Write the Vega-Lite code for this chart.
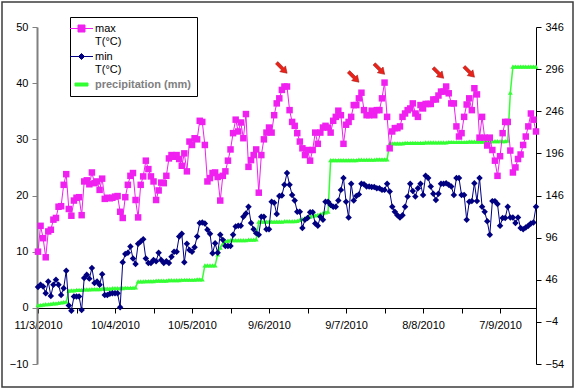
{
"$schema": "https://vega.github.io/schema/vega-lite/v6.json",
"width": 571, "height": 385, "autosize": "none",
"padding": {"left": 2, "top": 2, "right": 4, "bottom": 5},
"background": "white",
"config": {"view": {"stroke": "#3c3c3c", "strokeWidth": 1.5}, "font": "Liberation Sans",
  "axis": {"grid": false, "title": null, "labelFont": "Liberation Sans", "labelFontSize": 11, "labelColor": "#000"}},
"datasets": {
"main": [
{"d":"2010-03-11","mx":10,"mn":3.7,"p":16},{"d":"2010-03-12","mx":14.6,"mn":4.1,"p":16},{"d":"2010-03-13","mx":12.4,"mn":3.8,"p":16.5},{"d":"2010-03-14","mx":9,"mn":2.6,"p":17},{"d":"2010-03-15","mx":13.6,"mn":4.7,"p":17},{"d":"2010-03-16","mx":13.9,"mn":2.1,"p":17.5},{"d":"2010-03-17","mx":15.7,"mn":4.1,"p":18},{"d":"2010-03-18","mx":16,"mn":5,"p":18},{"d":"2010-03-19","mx":18,"mn":4.1,"p":18.5},{"d":"2010-03-20","mx":18.1,"mn":2.3,"p":19},{"d":"2010-03-21","mx":21.9,"mn":3.5,"p":19.5},{"d":"2010-03-22","mx":23.8,"mn":6.6,"p":20},{"d":"2010-03-23","mx":17.6,"mn":0.4,"p":33},{"d":"2010-03-24","mx":16.4,"mn":-0.5,"p":33.5},{"d":"2010-03-25","mx":19.1,"mn":2,"p":33.5},{"d":"2010-03-26","mx":19.6,"mn":2,"p":34},{"d":"2010-03-27","mx":19.7,"mn":2,"p":34},{"d":"2010-03-28","mx":16.5,"mn":-0.4,"p":34},{"d":"2010-03-29","mx":22.5,"mn":5.3,"p":34.5},{"d":"2010-03-30","mx":22.7,"mn":5.9,"p":34.5},{"d":"2010-03-31","mx":22,"mn":5.2,"p":34.5},
{"d":"2010-04-01","mx":24.1,"mn":7.1,"p":35},{"d":"2010-04-02","mx":22.2,"mn":4.4,"p":35},{"d":"2010-04-03","mx":22.5,"mn":4.7,"p":35},{"d":"2010-04-04","mx":21,"mn":4.1,"p":35},{"d":"2010-04-05","mx":23,"mn":6,"p":35.5},{"d":"2010-04-06","mx":19.4,"mn":2.3,"p":35.5},{"d":"2010-04-07","mx":19.6,"mn":2.3,"p":35.5},{"d":"2010-04-08","mx":19.5,"mn":2.5,"p":35.5},{"d":"2010-04-09","mx":19.6,"mn":2.6,"p":36},{"d":"2010-04-10","mx":19.8,"mn":2.6,"p":36},{"d":"2010-04-11","mx":19.9,"mn":2.6,"p":36},{"d":"2010-04-12","mx":17.1,"mn":0.1,"p":36},{"d":"2010-04-13","mx":16,"mn":8.1,"p":36},{"d":"2010-04-14","mx":19.7,"mn":9.6,"p":36.5},{"d":"2010-04-15","mx":21.9,"mn":9.8,"p":36.5},{"d":"2010-04-16","mx":23.5,"mn":10.9,"p":36.5},{"d":"2010-04-17","mx":24,"mn":8.8,"p":36.5},{"d":"2010-04-18","mx":19.2,"mn":7.8,"p":37},{"d":"2010-04-19","mx":16.1,"mn":11.4,"p":44},{"d":"2010-04-20","mx":21.9,"mn":11.8,"p":44},{"d":"2010-04-21","mx":23.4,"mn":12.2,"p":44},{"d":"2010-04-22","mx":26.2,"mn":8.8,"p":44.5},{"d":"2010-04-23","mx":24.7,"mn":8,"p":44.5},{"d":"2010-04-24","mx":23.4,"mn":8,"p":44.5},{"d":"2010-04-25","mx":22.5,"mn":8.5,"p":44.5},{"d":"2010-04-26","mx":19.2,"mn":8.3,"p":45},{"d":"2010-04-27","mx":20.9,"mn":9.8,"p":45},{"d":"2010-04-28","mx":22.3,"mn":8.5,"p":45},{"d":"2010-04-29","mx":22.2,"mn":8,"p":45},{"d":"2010-04-30","mx":23.5,"mn":8.3,"p":45},
{"d":"2010-05-01","mx":26.6,"mn":8,"p":45.5},{"d":"2010-05-02","mx":27.2,"mn":9.1,"p":45.5},{"d":"2010-05-03","mx":26.9,"mn":10,"p":45.5},{"d":"2010-05-04","mx":27.2,"mn":10,"p":45.5},{"d":"2010-05-05","mx":26.5,"mn":12.7,"p":45.5},{"d":"2010-05-06","mx":25.3,"mn":13.2,"p":46},{"d":"2010-05-07","mx":27.5,"mn":8.1,"p":46},{"d":"2010-05-08","mx":24.3,"mn":11.4,"p":46},{"d":"2010-05-09","mx":29.6,"mn":10.3,"p":46},{"d":"2010-05-10","mx":29,"mn":10,"p":46},{"d":"2010-05-11","mx":30.2,"mn":10.8,"p":46},{"d":"2010-05-12","mx":30,"mn":12.7,"p":46.5},{"d":"2010-05-13","mx":33.3,"mn":15.1,"p":46.5},{"d":"2010-05-14","mx":33.1,"mn":15.2,"p":46.5},{"d":"2010-05-15","mx":29,"mn":15,"p":63},{"d":"2010-05-16","mx":22.5,"mn":13.9,"p":63},{"d":"2010-05-17","mx":23.1,"mn":13.2,"p":63},{"d":"2010-05-18","mx":24,"mn":9.7,"p":63},{"d":"2010-05-19","mx":24.1,"mn":11.5,"p":63},{"d":"2010-05-20","mx":23.3,"mn":9.8,"p":76},{"d":"2010-05-21","mx":19.1,"mn":13,"p":84},{"d":"2010-05-22","mx":23.5,"mn":12.1,"p":89},{"d":"2010-05-23","mx":24.3,"mn":11,"p":92},{"d":"2010-05-24","mx":26.2,"mn":11,"p":92.5},{"d":"2010-05-25","mx":28.2,"mn":11,"p":93},{"d":"2010-05-26","mx":31.1,"mn":13,"p":93},{"d":"2010-05-27","mx":33.5,"mn":14.5,"p":93},{"d":"2010-05-28","mx":31.4,"mn":14.6,"p":93},{"d":"2010-05-29","mx":33,"mn":14.6,"p":93},{"d":"2010-05-30","mx":30.2,"mn":16.2,"p":93},{"d":"2010-05-31","mx":34.5,"mn":16.8,"p":93},
{"d":"2010-06-01","mx":25.1,"mn":18,"p":93.5},{"d":"2010-06-02","mx":26.3,"mn":15.1,"p":93.5},{"d":"2010-06-03","mx":27.2,"mn":14,"p":93.5},{"d":"2010-06-04","mx":28.2,"mn":13.3,"p":94},{"d":"2010-06-05","mx":20.5,"mn":13,"p":115},{"d":"2010-06-06","mx":27.2,"mn":16.2,"p":115},{"d":"2010-06-07","mx":30,"mn":16.2,"p":115},{"d":"2010-06-08","mx":31.2,"mn":14,"p":115},{"d":"2010-06-09","mx":32.1,"mn":14,"p":115},{"d":"2010-06-10","mx":31.2,"mn":18.9,"p":115},{"d":"2010-06-11","mx":34.3,"mn":18.7,"p":115},{"d":"2010-06-12","mx":36.4,"mn":16.7,"p":115},{"d":"2010-06-13","mx":37.3,"mn":19.9,"p":115},{"d":"2010-06-14","mx":38.8,"mn":20,"p":115},{"d":"2010-06-15","mx":39.4,"mn":21.9,"p":115.5},{"d":"2010-06-16","mx":39.4,"mn":24,"p":115.5},{"d":"2010-06-17","mx":35.2,"mn":21.9,"p":115.5},{"d":"2010-06-18","mx":33.1,"mn":20.1,"p":115.5},{"d":"2010-06-19","mx":32.4,"mn":19.1,"p":115.5},{"d":"2010-06-20","mx":31.1,"mn":17.1,"p":116},{"d":"2010-06-21","mx":29.6,"mn":17.1,"p":117},{"d":"2010-06-22","mx":28.4,"mn":14.2,"p":118},{"d":"2010-06-23","mx":27.2,"mn":15.7,"p":119},{"d":"2010-06-24","mx":28.1,"mn":16,"p":120},{"d":"2010-06-25","mx":26.2,"mn":17,"p":121},{"d":"2010-06-26","mx":28.1,"mn":17,"p":122},{"d":"2010-06-27","mx":31.2,"mn":15,"p":122.5},{"d":"2010-06-28","mx":29.2,"mn":14.6,"p":123},{"d":"2010-06-29","mx":31.2,"mn":16.2,"p":124},{"d":"2010-06-30","mx":32.1,"mn":15.7,"p":125},
{"d":"2010-07-01","mx":32.4,"mn":18.9,"p":126},{"d":"2010-07-02","mx":32.1,"mn":18.9,"p":127},{"d":"2010-07-03","mx":31.2,"mn":18.3,"p":188},{"d":"2010-07-04","mx":33.3,"mn":18,"p":188},{"d":"2010-07-05","mx":34,"mn":18,"p":188},{"d":"2010-07-06","mx":35.1,"mn":19.1,"p":188},{"d":"2010-07-07","mx":34.3,"mn":21,"p":188},{"d":"2010-07-08","mx":29.2,"mn":23.1,"p":188},{"d":"2010-07-09","mx":32.6,"mn":18.9,"p":188},{"d":"2010-07-10","mx":33.1,"mn":16.1,"p":188},{"d":"2010-07-11","mx":34,"mn":22.1,"p":188},{"d":"2010-07-12","mx":36.1,"mn":19.1,"p":188},{"d":"2010-07-13","mx":36.1,"mn":19.9,"p":188},{"d":"2010-07-14","mx":37.3,"mn":20.2,"p":188.5},{"d":"2010-07-15","mx":38.3,"mn":22.1,"p":188.5},{"d":"2010-07-16","mx":35.2,"mn":22,"p":188.5},{"d":"2010-07-17","mx":34.3,"mn":21.6,"p":188.5},{"d":"2010-07-18","mx":34.3,"mn":21.6,"p":188.5},{"d":"2010-07-19","mx":35.1,"mn":21.5,"p":188.5},{"d":"2010-07-20","mx":34.3,"mn":21.5,"p":188.5},{"d":"2010-07-21","mx":35.2,"mn":21.3,"p":189},{"d":"2010-07-22","mx":35.2,"mn":21.3,"p":189},{"d":"2010-07-23","mx":37.3,"mn":21,"p":189},{"d":"2010-07-24","mx":40.1,"mn":21,"p":189},{"d":"2010-07-25","mx":34,"mn":22.1,"p":189},{"d":"2010-07-26","mx":28.4,"mn":20.7,"p":208},{"d":"2010-07-27","mx":31.4,"mn":18,"p":208},{"d":"2010-07-28","mx":32,"mn":17.1,"p":208},{"d":"2010-07-29","mx":32,"mn":16.5,"p":208},{"d":"2010-07-30","mx":32.3,"mn":16.1,"p":208},{"d":"2010-07-31","mx":34,"mn":16.5,"p":208},
{"d":"2010-08-01","mx":34.6,"mn":18,"p":208.5},{"d":"2010-08-02","mx":35.2,"mn":19.8,"p":208.5},{"d":"2010-08-03","mx":35.5,"mn":22.1,"p":208.5},{"d":"2010-08-04","mx":36.4,"mn":20.8,"p":208.5},{"d":"2010-08-05","mx":34.6,"mn":19.8,"p":208.5},{"d":"2010-08-06","mx":34,"mn":21.3,"p":208.5},{"d":"2010-08-07","mx":36.1,"mn":22.1,"p":208.5},{"d":"2010-08-08","mx":35.5,"mn":20.1,"p":208.5},{"d":"2010-08-09","mx":36.3,"mn":23.5,"p":209},{"d":"2010-08-10","mx":36.3,"mn":23.1,"p":209},{"d":"2010-08-11","mx":36.3,"mn":21.6,"p":209},{"d":"2010-08-12","mx":37.1,"mn":20.3,"p":209},{"d":"2010-08-13","mx":37.1,"mn":19.2,"p":209},{"d":"2010-08-14","mx":37.8,"mn":20.3,"p":209},{"d":"2010-08-15","mx":38.5,"mn":22.1,"p":209},{"d":"2010-08-16","mx":38.5,"mn":22.1,"p":209},{"d":"2010-08-17","mx":39.4,"mn":22.2,"p":209},{"d":"2010-08-18","mx":38.2,"mn":21.9,"p":209.5},{"d":"2010-08-19","mx":36.4,"mn":21.6,"p":209.5},{"d":"2010-08-20","mx":36.4,"mn":20.1,"p":209.5},{"d":"2010-08-21","mx":32.3,"mn":23.1,"p":209.5},{"d":"2010-08-22","mx":30.5,"mn":23.1,"p":209.5},{"d":"2010-08-23","mx":31.1,"mn":20.1,"p":209.5},{"d":"2010-08-24","mx":34,"mn":20.1,"p":209.5},{"d":"2010-08-25","mx":36.2,"mn":15.7,"p":209.5},{"d":"2010-08-26","mx":37.3,"mn":18.9,"p":210},{"d":"2010-08-27","mx":35.2,"mn":19,"p":210},{"d":"2010-08-28","mx":39.1,"mn":22.2,"p":210},{"d":"2010-08-29","mx":38,"mn":19,"p":210},{"d":"2010-08-30","mx":30.3,"mn":23.1,"p":210},{"d":"2010-08-31","mx":34,"mn":18,"p":210},
{"d":"2010-09-01","mx":30.3,"mn":17.1,"p":210},{"d":"2010-09-02","mx":28.9,"mn":15.4,"p":210},{"d":"2010-09-03","mx":30.3,"mn":13,"p":210},{"d":"2010-09-04","mx":28.1,"mn":19,"p":210.5},{"d":"2010-09-05","mx":26.2,"mn":19,"p":210.5},{"d":"2010-09-06","mx":23.5,"mn":18.5,"p":210.5},{"d":"2010-09-07","mx":27,"mn":14.6,"p":210.5},{"d":"2010-09-08","mx":31.1,"mn":16,"p":210.5},{"d":"2010-09-09","mx":33.1,"mn":16,"p":210.5},{"d":"2010-09-10","mx":33.1,"mn":18,"p":211},{"d":"2010-09-11","mx":28,"mn":16.1,"p":268},{"d":"2010-09-12","mx":24.1,"mn":16.1,"p":299},{"d":"2010-09-13","mx":25,"mn":15.1,"p":299},{"d":"2010-09-14","mx":26.5,"mn":16.1,"p":299},{"d":"2010-09-15","mx":27.3,"mn":14.2,"p":299},{"d":"2010-09-16","mx":29,"mn":14,"p":299},{"d":"2010-09-17","mx":30.5,"mn":14.3,"p":299},{"d":"2010-09-18","mx":32.3,"mn":14.6,"p":299},{"d":"2010-09-19","mx":34.6,"mn":15,"p":299},{"d":"2010-09-20","mx":33.5,"mn":15.2,"p":299},{"d":"2010-09-21","mx":31.4,"mn":18,"p":299}
],
"arrows": [
{"d":"2010-06-14","val":42.7},{"d":"2010-07-12","val":41.1},{"d":"2010-07-22","val":42.5},{"d":"2010-08-14","val":41.8},{"d":"2010-08-26","val":42.0}
]
},
"data": {"name": "main"},
"encoding": {
  "x": {"field": "d", "type": "temporal",
    "scale": {"type": "utc", "nice": false, "range": [36, 534],
      "domain": [{"year": 2010, "month": 3, "date": 11, "utc": true}, {"year": 2010, "month": 9, "date": 21, "utc": true}]},
    "axis": {"orient": "bottom", "offset": -79,
      "values": [{"year":2010,"month":3,"date":11,"utc":true},{"year":2010,"month":3,"date":26,"utc":true},{"year":2010,"month":4,"date":10,"utc":true},{"year":2010,"month":4,"date":25,"utc":true},{"year":2010,"month":5,"date":10,"utc":true},{"year":2010,"month":5,"date":25,"utc":true},{"year":2010,"month":6,"date":9,"utc":true},{"year":2010,"month":6,"date":24,"utc":true},{"year":2010,"month":7,"date":9,"utc":true},{"year":2010,"month":7,"date":24,"utc":true},{"year":2010,"month":8,"date":8,"utc":true},{"year":2010,"month":8,"date":23,"utc":true},{"year":2010,"month":9,"date":7,"utc":true}],
      "labelExpr": "utcdate(datum.value) > 15 ? '' : utcFormat(datum.value, '%-d/%-m/%Y')",
      "labelOverlap": false, "labelFlush": false, "labelBound": false,
      "domainColor": "#000", "tickColor": "#000", "tickSize": 5, "labelPadding": 6}}
},
"layer": [
  {
    "transform": [{"fold": ["p"], "as": ["series", "val"]}],
    "encoding": {
      "y": {"field": "val", "type": "quantitative",
        "scale": {"domain": [-54, 346], "range": [362, 25], "nice": false, "zero": false},
        "axis": {"orient": "right", "offset": -37, "values": [-54, -4, 46, 96, 146, 196, 246, 296, 346],
          "domainColor": "#000", "tickColor": "#000", "tickSize": 5, "labelPadding": 4}},
      "color": {"field": "series", "type": "nominal", "scale": {"domain": ["mx", "mn", "p"], "range": ["#f020f0", "#000080", "#33ff33"]}}
    },
    "layer": [
      {"mark": {"type": "line", "strokeWidth": 1.5}},
      {"mark": {"type": "point", "filled": true, "size": 24, "opacity": 1}, "encoding": {"shape": {"value": "triangle-up"}}}
    ]
  },
  {
    "encoding": {
      "y": {"field": "val", "type": "quantitative",
        "scale": {"domain": [-10, 50], "range": [362, 25], "nice": false, "zero": false},
        "axis": {"orient": "left", "offset": -35, "values": [-10, 0, 10, 20, 30, 40, 50],
          "domainColor": "#808080", "domainWidth": 2, "tickColor": "#808080", "tickSize": 5, "labelPadding": 4}}
    },
    "layer": [
      {
        "transform": [{"fold": ["mx", "mn"], "as": ["series", "val"]}],
        "encoding": {
          "color": {"field": "series", "type": "nominal", "scale": {"domain": ["mx", "mn", "p"], "range": ["#f020f0", "#000080", "#33ff33"]},
            "legend": {"orient": "none", "legendX": 68, "legendY": 15, "title": null, "strokeColor": "#000", "fillColor": "#fff",
              "padding": 6, "symbolSize": 100, "symbolType": "square", "labelFontSize": 11, "labelFont": "Liberation Sans", "labelOffset": 8, "rowPadding": 3,
              "labelExpr": "datum.value === 'mx' ? ['max', 'T(°C)'] : datum.value === 'mn' ? ['min', 'T(°C)'] : 'precipitation (mm)'",
              "encode": {
                "labels": {"update": {"fontWeight": {"signal": "datum.value === 'p' ? 'bold' : 'normal'"}, "fill": {"signal": "datum.value === 'p' ? '#808080' : '#000000'"}}},
                "symbols": {"update": {
                  "shape": {"signal": "datum.value === 'mx' ? 'M-2.3,0H2.3M-0.7,-0.7H0.7V0.7H-0.7Z' : datum.value === 'mn' ? 'M-2.3,0H2.3M0,-0.6L0.6,0L0,0.6L-0.6,0Z' : 'M-1.3,-0.3H1.3V0.3H-1.3Z'"},
                  "fill": {"signal": "datum.value === 'mx' ? '#f020f0' : datum.value === 'mn' ? '#000080' : '#33ff33'"},
                  "stroke": {"signal": "datum.value === 'mx' ? '#f020f0' : datum.value === 'mn' ? '#000080' : '#33ff33'"},
                  "strokeWidth": {"value": 1}, "opacity": {"value": 1}}}
              }}}
        },
        "layer": [
          {"mark": {"type": "line", "strokeWidth": 1}},
          {"transform": [{"filter": "datum.series === 'mx'"}], "mark": {"type": "point", "shape": "square", "filled": true, "size": 42, "opacity": 1}},
          {"transform": [{"filter": "datum.series === 'mn'"}], "mark": {"type": "point", "shape": "diamond", "filled": true, "size": 42, "opacity": 1}}
        ]
      },
      {
        "data": {"name": "arrows"},
        "mark": {"type": "point", "shape": "M-0.22,-1L0.22,-1L0.22,0.15L0.55,0.15L0,1L-0.55,0.15L-0.22,0.15Z", "angle": 315,
          "size": 220, "filled": true, "color": "#e8241a", "stroke": "#a01010", "strokeWidth": 0.5, "opacity": 1}
      }
    ]
  }
],
"resolve": {"scale": {"y": "independent"}}
}
